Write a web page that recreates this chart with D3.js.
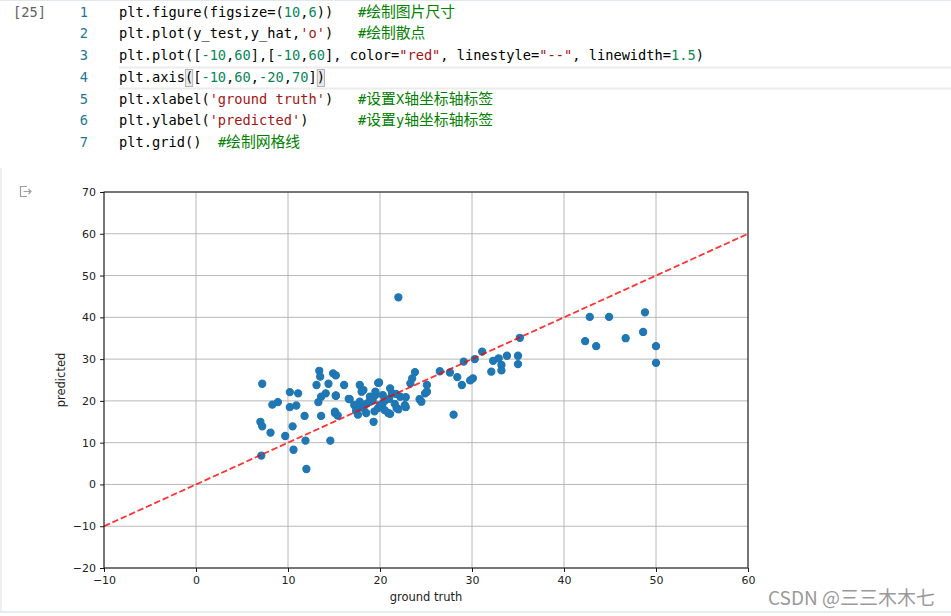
<!DOCTYPE html>
<html><head><meta charset="utf-8">
<script src="https://cdn.jsdelivr.net/npm/d3@7/dist/d3.min.js"></script>
<style>html,body{margin:0;padding:0;background:#fff;overflow:hidden}</style>
</head><body>
<svg id="c" width="951" height="616"></svg>
<script>
// ----- data -----
const yTest = [22.0,35.2,42.3,42.8,44.9,43.5,46.7,48.8,48.6,50.0,50.0,
  7.2,13.4,13.5,14.9,15.2,13.1,14.4,16.1,10.2,11.1,14.1,13.6,15.2,13.3,8.9,8.3,10.2,10.9,16.6,
  13.6,11.8,15.1,15.4,7.0,7.2,8.1,9.7,10.5,11.9,14.6,10.6,7.1,12.0,
  17.8,18.2,19.8,21.1,21.3,23.8,23.5,23.3,25.1,24.9,24.3,26.5,22.2,22.7,21.8,20.9,19.3,17.6,18.5,
  16.7,17.8,18.9,19.5,19.8,18.2,20.3,
  31.1,30.3,29.1,32.3,32.9,33.8,35.0,35.0,33.2,33.2,32.1,30.1,29.8,27.6,28.4,28.9,28.0,
  25.1,24.5,22.8,22.8,22.0,21.1,19.9,18.0,15.1,15.2,17.5,19.5,20.3,18.9,20.6,
  19.4,20.0,21.0,21.6,17.2,18.6,19.2,21.7,20.5,17.4];
const yHat = [44.8,35.1,34.3,40.1,40.1,33.1,35.0,41.2,36.5,33.1,29.1,
  24.1,27.2,25.8,26.6,26.1,23.8,24.1,23.8,22.1,21.8,21.8,21.0,21.3,19.7,19.7,19.1,18.5,18.9,20.5,
  16.4,16.4,17.4,16.5,15.0,13.9,12.4,11.6,13.9,10.5,10.5,8.3,6.9,3.7,
  23.8,22.6,24.3,23.0,21.8,26.9,25.4,24.2,23.8,21.8,20.4,27.1,21.0,19.0,18.3,17.1,15.0,16.7,17.1,
  20.4,19.8,19.8,21.4,18.3,18.3,19.4,
  31.8,30.0,29.4,29.6,30.2,30.8,30.8,28.8,28.6,27.3,27.0,25.4,24.9,26.8,25.7,23.8,16.7,
  22.2,19.8,20.9,18.5,18.0,16.9,24.4,22.2,17.1,21.2,18.6,22.2,21.4,21.0,20.2,
  17.5,19.0,20.5,19.3,19.0,19.4,20.2,21.7,17.8,17.6];
const refLineX = [-10, 60];
const refLineY = [-10, 60];
const xDomain = [-10, 60];
const yDomain = [-20, 70];
const xTicks = [-10, 0, 10, 20, 30, 40, 50, 60];
const yTicks = [-20, -10, 0, 10, 20, 30, 40, 50, 60, 70];
const xLabel = "ground truth";
const yLabel = "predicted";
const cellLabel = "[25]";
const codeLines = [
  [["plt.figure(figsize=(","k"],["10","n"],[",","k"],["6","n"],["))   ","k"],["#绘制图片尺寸","c"]],
  [["plt.plot(y_test,y_hat,","k"],["'o'","s"],[")   ","k"],["#绘制散点","c"]],
  [["plt.plot([","k"],["-10","n"],[",","k"],["60","n"],["],[","k"],["-10","n"],[",","k"],["60","n"],["], color=","k"],["\"red\"","s"],[", linestyle=","k"],["\"--\"","s"],[", linewidth=","k"],["1.5","n"],[")","k"]],
  [["plt.axis([","k"],["-10","n"],[",","k"],["60","n"],[",","k"],["-20","n"],[",","k"],["70","n"],["])","k"]],
  [["plt.xlabel(","k"],["'ground truth'","s"],[")   ","k"],["#设置X轴坐标轴标签","c"]],
  [["plt.ylabel(","k"],["'predicted'","s"],[")      ","k"],["#设置y轴坐标轴标签","c"]],
  [["plt.grid()  ","k"],["#绘制网格线","c"]]
];
const watermark = "CSDN @三三木木七";

// ----- drawing -----
const svg = d3.select("#c");
svg.append("rect").attr("width",951).attr("height",616).attr("fill","#fff");

// notebook chrome
svg.append("line").attr("x1",0).attr("x2",951).attr("y1",0.5).attr("y2",0.5).attr("stroke","#e3e8ec");
svg.append("line").attr("x1",0).attr("x2",951).attr("y1",612).attr("y2",612).attr("stroke","#d4e8f8").attr("stroke-width",1.5);
svg.append("line").attr("x1",1).attr("x2",1).attr("y1",168).attr("y2",612).attr("stroke","#e0e0e0");

const mono = "'DejaVu Sans Mono', monospace";
const cw = 8.24, codeX = 119;
const baselines = [16.5, 38, 60, 82, 104, 124.5, 146.5];
const colors = {k:"#000000", n:"#098658", s:"#a31515", c:"#008000"};

// current-line highlight (line 4)
svg.append("line").attr("x1",119).attr("x2",951).attr("y1",67.5).attr("y2",67.5).attr("stroke","#ececec").attr("stroke-width",2);
svg.append("line").attr("x1",119).attr("x2",951).attr("y1",88.5).attr("y2",88.5).attr("stroke","#ececec").attr("stroke-width",2);
// bracket match boxes
[8, 24].forEach(i => {
  svg.append("rect").attr("x", codeX + i*cw + 0.5).attr("y", 69.5).attr("width", cw - 1).attr("height", 17)
    .attr("fill","#e8e8e8").attr("stroke","#b4b4b4").attr("stroke-width",1);
});

svg.append("text").attr("x",13).attr("y",16.5).attr("font-family",mono).attr("font-size",13.7)
  .attr("fill","#616161").text(cellLabel);

const isCJK = ch => /[\u3000-\u9fff\uff00-\uffef]/.test(ch);
codeLines.forEach((segs, li) => {
  svg.append("text").attr("x",88).attr("y",baselines[li]).attr("text-anchor","end")
    .attr("font-family",mono).attr("font-size",13.7).attr("fill","#237893").text(li+1);
  let col = 0;
  segs.forEach(([txt, kind]) => {
    let x = codeX + col*cw;
    let runs = [], cur = "", curC = null;
    for (const ch of txt) {
      const c = isCJK(ch);
      if (curC === null || c === curC) { cur += ch; curC = c; }
      else { runs.push([cur,curC]); cur = ch; curC = c; }
    }
    if (cur) runs.push([cur,curC]);
    runs.forEach(([r, c]) => {
      if (c) {
        svg.append("text").attr("x",x).attr("y",baselines[li]).attr("font-family","'Noto Sans CJK SC', sans-serif")
          .attr("font-size",14.8).attr("fill",colors[kind]).text(r);
        x += r.length * 14.9;
      } else {
        svg.append("text").attr("x",x).attr("y",baselines[li]).attr("font-family",mono)
          .attr("font-size",13.7).attr("fill",colors[kind]).attr("xml:space","preserve").style("white-space","pre").text(r);
        x += r.length * cw;
      }
    });
    col += [...txt].reduce((a,ch)=>a+(isCJK(ch)?14.9/cw:1),0);
  });
});

// output icon
const ic = svg.append("g").attr("stroke","#9e9e9e").attr("fill","none").attr("stroke-width",1.2);
ic.append("path").attr("d","M27,186.5 H20.5 V196.5 H27");
ic.append("path").attr("d","M23.5,191.5 H31 M28.5,189 L31,191.5 L28.5,194");

// chart
const x = d3.scaleLinear().domain(xDomain).range([104,748]);
const y = d3.scaleLinear().domain(yDomain).range([568,192]);
const font = "'DejaVu Sans', sans-serif";

const grid = svg.append("g").attr("stroke","#b0b0b0").attr("stroke-width",0.9);
xTicks.forEach(t => grid.append("line").attr("x1",x(t)).attr("x2",x(t)).attr("y1",192).attr("y2",568));
yTicks.forEach(t => grid.append("line").attr("y1",y(t)).attr("y2",y(t)).attr("x1",104).attr("x2",748));

svg.append("defs").append("clipPath").attr("id","clip").append("rect")
  .attr("x",104).attr("y",192).attr("width",644).attr("height",376);

const pts = yTest.map((v,i)=>[v,yHat[i]]);
svg.append("g").attr("clip-path","url(#clip)").selectAll("circle").data(pts).join("circle")
  .attr("cx",d=>x(d[0])).attr("cy",d=>y(d[1])).attr("r",3.6)
  .attr("fill","#1f77b4").attr("stroke","#1f77b4").attr("stroke-width",1.1);

svg.append("g").attr("clip-path","url(#clip)").append("path")
  .datum(refLineX.map((v,i)=>[v,refLineY[i]]))
  .attr("d", d3.line().x(d=>x(d[0])).y(d=>y(d[1])))
  .attr("stroke","#ff0000").attr("stroke-opacity",0.8).attr("stroke-width",1.8)
  .attr("stroke-dasharray","6.4,2.8").attr("fill","none");

// axes
const xAxis = svg.append("g").attr("transform","translate(0,568)")
  .call(d3.axisBottom(x).tickValues(xTicks).tickSize(4).tickPadding(4).tickFormat(d3.format("d")));
const yAxis = svg.append("g").attr("transform","translate(104,0)")
  .call(d3.axisLeft(y).tickValues(yTicks).tickSize(4).tickPadding(4).tickFormat(d3.format("d")));
[xAxis,yAxis].forEach(a => {
  a.select(".domain").remove();
  a.selectAll("line").attr("stroke","#000").attr("stroke-width",0.9);
  a.selectAll("text").attr("font-family",font).attr("font-size",11).attr("fill","#222");
});
svg.append("rect").attr("x",104).attr("y",192).attr("width",644).attr("height",376)
  .attr("fill","none").attr("stroke","#111").attr("stroke-width",1);

svg.append("text").attr("x",426).attr("y",601).attr("text-anchor","middle")
  .attr("font-family",font).attr("font-size",11.5).attr("fill","#222").text(xLabel);
svg.append("text").attr("transform","translate(65,380) rotate(-90)").attr("text-anchor","middle")
  .attr("font-family",font).attr("font-size",11.5).attr("fill","#222").text(yLabel);

// watermark
svg.append("text").attr("x",935).attr("y",605).attr("text-anchor","end")
  .attr("font-family","'Noto Sans CJK SC', 'Noto Sans', sans-serif").attr("font-size",19)
  .attr("fill","#9a9a9a").text(watermark);
</script>
</body></html>
